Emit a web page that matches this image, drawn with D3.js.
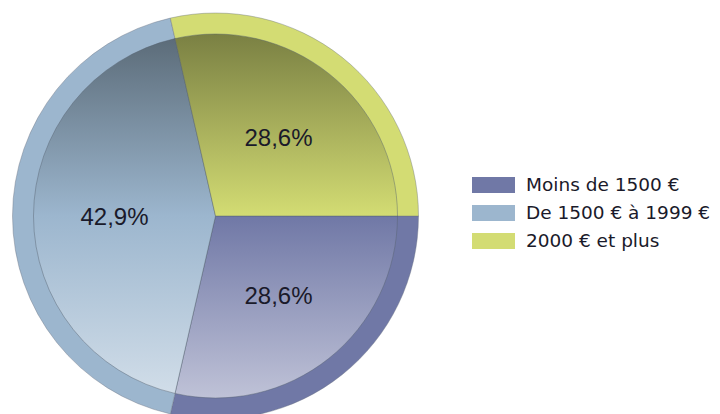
<!DOCTYPE html>
<html>
<head>
<meta charset="utf-8">
<script src="https://cdn.jsdelivr.net/npm/d3@7"></script>
<style>
  html, body { margin: 0; padding: 0; background: #ffffff; }
  svg { display: block; }
</style>
</head>
<body>
<svg id="chart" width="720" height="414"></svg>
<script>
const categories = ["Moins de 1500 €", "De 1500 € à 1999 €", "2000 € et plus"];
const values = [2, 3, 2];
const colors = ["#7078a6", "#9cb6ce", "#d3dc73"];

const W = 720, H = 414;
const cx = 215.5, cy = 216, R = 203, Rin = 182;

const svg = d3.select("#chart");
const defs = svg.append("defs");

const total = d3.sum(values);
const data = categories.map((c, i) => ({ cat: c, value: values[i], color: colors[i], i }));

// gradients per slice (vertical, across the whole inner disc; local coords of the pie group)
data.forEach(d => {
  const base = d3.rgb(d.color);
  const dark = d3.rgb(base.r * 0.58, base.g * 0.58, base.b * 0.58);
  const light = d3.interpolateRgb(base, "#ffffff")(0.55);
  const g = defs.append("linearGradient")
    .attr("id", "grad" + d.i)
    .attr("gradientUnits", "userSpaceOnUse")
    .attr("x1", 0).attr("x2", 0)
    .attr("y1", -Rin).attr("y2", Rin);
  g.append("stop").attr("offset", "0%").attr("stop-color", dark);
  g.append("stop").attr("offset", "50%").attr("stop-color", base);
  g.append("stop").attr("offset", "100%").attr("stop-color", light);
});

const pie = d3.pie().value(d => d.value).sort(null)
  .startAngle(Math.PI / 2).endAngle(Math.PI / 2 + 2 * Math.PI);
const arcs = pie(data);

const outerArc = d3.arc().innerRadius(0).outerRadius(R);
const innerArc = d3.arc().innerRadius(0).outerRadius(Rin);
const labelArc = d3.arc().innerRadius(101).outerRadius(101);

const g = svg.append("g").attr("transform", `translate(${cx},${cy})`);

g.selectAll("path.rim").data(arcs).join("path")
  .attr("class", "rim")
  .attr("d", outerArc)
  .attr("fill", d => d.data.color)
  .attr("stroke", "#6a7080")
  .attr("stroke-opacity", 0.5)
  .attr("stroke-width", 0.8);

g.selectAll("path.inner").data(arcs).join("path")
  .attr("class", "inner")
  .attr("d", innerArc)
  .attr("fill", d => `url(#grad${d.data.i})`)
  .attr("stroke", "#55606e")
  .attr("stroke-opacity", 0.55)
  .attr("stroke-width", 0.8);

const fmt = v => (v / total * 100).toFixed(1).replace(".", ",") + "%";

g.selectAll("text.pct").data(arcs).join("text")
  .attr("class", "pct")
  .attr("transform", d => {
    const [x, y] = labelArc.centroid(d);
    return `translate(${x},${y})`;
  })
  .attr("text-anchor", "middle")
  .attr("dy", "0.36em")
  .attr("font-family", "Arial, 'Liberation Sans', sans-serif")
  .attr("font-size", 24)
  .attr("fill", "#1a1a2a")
  .text(d => fmt(d.data.value));

// legend
const leg = svg.append("g").attr("transform", "translate(472,177)");
const rows = leg.selectAll("g").data(data).join("g")
  .attr("transform", (d, i) => `translate(0,${i * 28})`);
rows.append("rect")
  .attr("width", 43).attr("height", 16)
  .attr("fill", d => d.color);
rows.append("text")
  .attr("x", 54).attr("y", 14)
  .attr("font-family", "'DejaVu Sans', Verdana, sans-serif")
  .attr("font-size", 18.5)
  .attr("fill", "#1a1a2a")
  .text(d => d.cat);
</script>
</body>
</html>
